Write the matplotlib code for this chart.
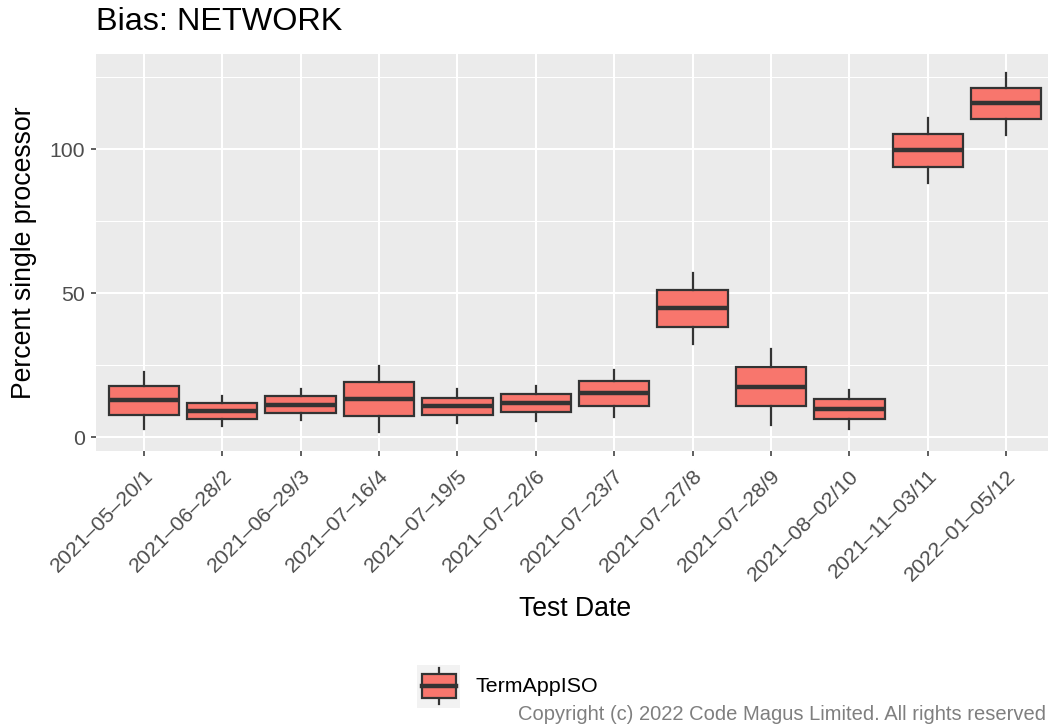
import matplotlib
matplotlib.use('Agg')
from matplotlib import pyplot as plt
from matplotlib.patches import Rectangle
from matplotlib.lines import Line2D
from matplotlib.ticker import MultipleLocator

plt.rcParams['font.family'] = ['Liberation Sans', 'DejaVu Sans']

# data
dates = ['2021–05–20/1', '2021–06–28/2', '2021–06–29/3', '2021–07–16/4',
         '2021–07–19/5', '2021–07–22/6', '2021–07–23/7', '2021–07–27/8',
         '2021–07–28/9', '2021–08–02/10', '2021–11–03/11', '2022–01–05/12']
whisker_lo = [2.9, 4.0, 5.9, 1.7, 4.9, 5.7, 7.0, 32.3, 4.2, 3.0, 88.4, 105.1]
q1 = [7.7, 6.5, 8.5, 7.3, 7.6, 8.7, 11.0, 38.4, 10.8, 6.2, 94.0, 110.4]
median = [12.8, 9.2, 11.2, 13.3, 10.8, 11.8, 15.4, 44.8, 17.6, 9.7, 99.6, 116.0]
q3 = [17.8, 12.0, 14.3, 19.1, 13.8, 14.9, 19.5, 51.1, 24.3, 13.2, 105.4, 121.4]
whisker_hi = [22.6, 14.3, 16.9, 24.6, 16.7, 17.7, 23.5, 57.2, 30.8, 16.4, 110.9, 126.6]
series_name = 'TermAppISO'

FILL = '#F8766D'
EDGE = '#333333'
PANEL = '#EBEBEB'

W, H = 1048, 727
fig = plt.figure(figsize=(W / 100, H / 100), dpi=100)

# panel in pixel coords (right edge runs off the image like the original)
left, right, top, bottom = 96, 1054, 54, 450.7
ax = fig.add_axes([left / W, (H - bottom) / H, (right - left) / W, (bottom - top) / H])
ax.set_facecolor(PANEL)
for s in ax.spines.values():
    s.set_visible(False)

stats = []
for i in range(len(dates)):
    stats.append({'whislo': whisker_lo[i], 'q1': q1[i], 'med': median[i],
                  'q3': q3[i], 'whishi': whisker_hi[i], 'fliers': []})

pos = list(range(len(dates)))
ax.bxp(stats, positions=pos, widths=0.9, patch_artist=True, showcaps=False,
       boxprops=dict(facecolor=FILL, edgecolor=EDGE, linewidth=1.6),
       medianprops=dict(color=EDGE, linewidth=3.2, solid_capstyle='butt'),
       whiskerprops=dict(color=EDGE, linewidth=1.6),
       zorder=3)

ax.set_xlim(-0.61, len(dates) - 1 + 0.61)
ax.set_ylim(-4.65, 133.1)
ax.yaxis.set_major_locator(MultipleLocator(50))
ax.yaxis.set_minor_locator(MultipleLocator(25))
ax.set_xticks(pos)
ax.set_xticklabels(dates, rotation=45, ha='right', va='top', rotation_mode='anchor')

ax.grid(True, which='major', color='white', linewidth=1.5, zorder=0)
ax.grid(True, which='minor', axis='y', color='white', linewidth=0.75, zorder=0)
ax.set_axisbelow(True)
ax.tick_params(which='minor', length=0)
ax.tick_params(which='major', length=3.8, width=1.1, color=EDGE,
               labelsize=15.3, labelcolor='#4D4D4D', pad=4)
ax.tick_params(axis='x', pad=7.5)

ax.set_xlabel('Test Date', fontsize=19.2, labelpad=8)
ax.set_ylabel('Percent single processor', fontsize=19.2, labelpad=9)
fig.text(96.5 / W, 1 - 22 / H, 'Bias: NETWORK', fontsize=23.3, ha='left', va='center')

# legend key drawn by hand, ggplot style
kx0, kx1, ky0, ky1 = 417, 460, 665, 708
kax = fig.add_axes([kx0 / W, (H - ky1) / H, (kx1 - kx0) / W, (ky1 - ky0) / H])
kax.set_facecolor('#F2F2F2')
kax.set_xlim(0, 1)
kax.set_ylim(0, 1)
kax.set_xticks([])
kax.set_yticks([])
for s in kax.spines.values():
    s.set_visible(False)
kax.add_line(Line2D([0.5, 0.5], [0.09, 0.92], color=EDGE, linewidth=1.6))
kax.add_patch(Rectangle((0.11, 0.24), 0.79, 0.55, facecolor=FILL, edgecolor=EDGE,
                        linewidth=1.6, zorder=3))
kax.add_line(Line2D([0.11, 0.9], [0.51, 0.51], color=EDGE, linewidth=3.2, zorder=4))
fig.text(475 / W, 1 - 687 / H, series_name, fontsize=15.4, ha='left', va='center')

fig.text(1046 / W, 1 - 714.5 / H, 'Copyright (c) 2022 Code Magus Limited. All rights reserved',
         fontsize=14.5, color='#7F7F7F', ha='right', va='center')

fig.savefig('out.png', dpi=100)
